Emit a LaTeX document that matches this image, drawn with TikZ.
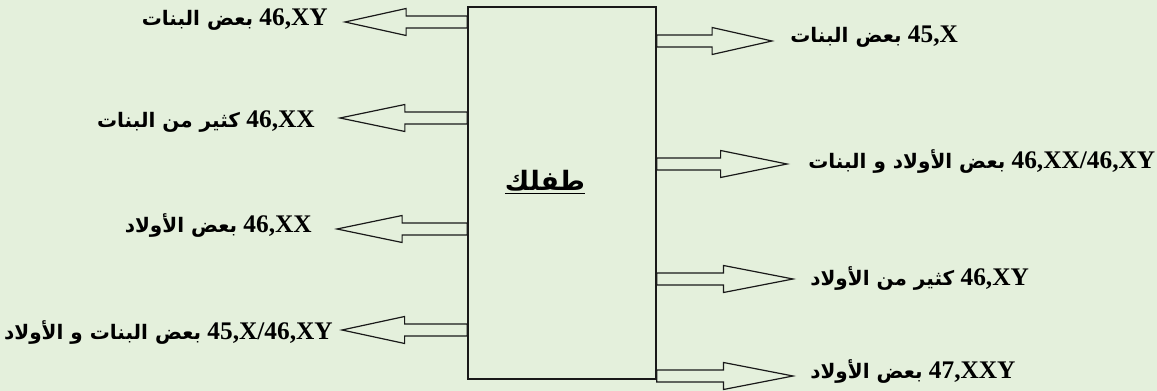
\documentclass[tikz,border=0pt]{standalone}
\usepackage{fontspec}
\setmainfont{Liberation Serif}
\newfontfamily\arabicfont[Script=Arabic]{DejaVu Sans}
\TeXXeTstate=1
\usetikzlibrary{calc}
\definecolor{bg}{RGB}{228,240,220}
\definecolor{ink}{RGB}{25,25,25}
\newcommand\ar[1]{{\arabicfont\bfseries\fontsize{15}{18}\selectfont\beginR #1\endR}}
\newcommand\blockarr[3]{%
  \draw[arrline] ($(#1)+(0,-6)$) -- ($(#1)!#3!(#2)+(0,-6)$) -- ($(#1)!#3!(#2)+(0,-13.5)$)
    -- (#2) -- ($(#1)!#3!(#2)+(0,13.5)$) -- ($(#1)!#3!(#2)+(0,6)$) -- ($(#1)+(0,6)$) -- cycle;}
\tikzset{
  arrline/.style={draw=ink, line width=0.9pt, line join=miter},
  boxstyle/.style={draw=ink, line width=1.2pt, minimum width=141pt, minimum height=279pt, inner sep=0pt},
  lbl/.style={font=\bfseries\fontsize{19}{22}\selectfont, inner sep=0pt, text height=13pt, text depth=4pt, text=black},
}
\begin{document}
\begin{tikzpicture}[x=0.75pt,y=-0.75pt]
\fill[bg] (0,0) rectangle (1157,391);
\useasboundingbox (0,0) rectangle (1157,391);
\node[boxstyle] (box) at (562,193) {};
\node[font=\arabicfont\bfseries\fontsize{20}{24}\selectfont] (title) at (545,182) {\beginR\underline{طفلك}\endR};
% left side
\coordinate (ls1) at (box.west |- 0,22);
\coordinate (lt1) at (345,22);
\coordinate (ls2) at (box.west |- 0,118);
\coordinate (lt2) at (340,118);
\coordinate (ls3) at (box.west |- 0,229);
\coordinate (lt3) at (337,229);
\coordinate (ls4) at (box.west |- 0,330);
\coordinate (lt4) at (342,330);
\blockarr{ls1}{lt1}{0.5}
\blockarr{ls2}{lt2}{0.49}
\blockarr{ls3}{lt3}{0.5}
\blockarr{ls4}{lt4}{0.5}
\node[lbl, anchor=east] (l1) at (328,20) {\ar{بعض البنات} 46,XY};
\node[lbl, anchor=east] (l2) at (315,122) {\ar{كثير من البنات} 46,XX};
\node[lbl, anchor=east] (l3) at (312,227) {\ar{بعض الأولاد} 46,XX};
\node[lbl, anchor=east] (l4) at (333,334) {\ar{بعض البنات و الأولاد} 45,X/46,XY};
% right side
\coordinate (rs1) at (box.east |- 0,41);
\coordinate (rt1) at (772,41);
\coordinate (rs2) at (box.east |- 0,164);
\coordinate (rt2) at (787,164);
\coordinate (rs3) at (box.east |- 0,279);
\coordinate (rt3) at (793,279);
\coordinate (rs4) at (box.east |- 0,376);
\coordinate (rt4) at (793,376);
\blockarr{rs1}{rt1}{0.48}
\blockarr{rs2}{rt2}{0.49}
\blockarr{rs3}{rt3}{0.49}
\blockarr{rs4}{rt4}{0.49}
\node[lbl, anchor=west] (r1) at (790,37) {\ar{بعض البنات} 45,X};
\node[lbl, anchor=west] (r2) at (808,163) {\ar{بعض الأولاد و البنات} 46,XX/46,XY};
\node[lbl, anchor=west] (r3) at (810,280) {\ar{كثير من الأولاد} 46,XY};
\node[lbl, anchor=west] (r4) at (810,373) {\ar{بعض الأولاد} 47,XXY};
\end{tikzpicture}
\end{document}
